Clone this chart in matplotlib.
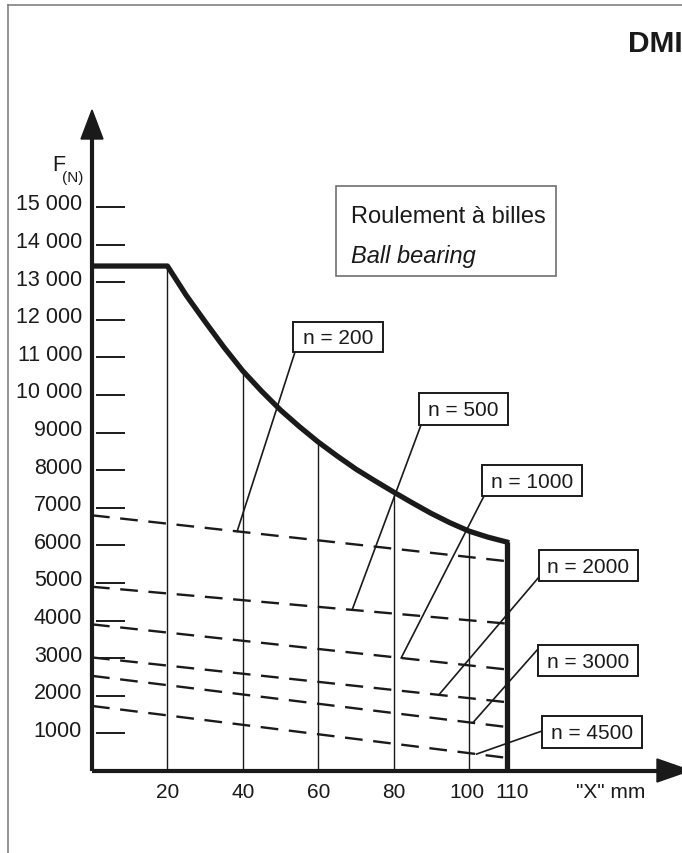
import matplotlib
matplotlib.use("Agg")
import matplotlib.pyplot as plt
from matplotlib.patches import Rectangle, Polygon
from matplotlib.lines import Line2D
import numpy as np

plt.rcParams['font.family'] = ['Liberation Sans', 'DejaVu Sans']

# ---------------- data ----------------
# limit curve (ball bearing), X in mm, F in N
x_curve = [0, 20, 25, 30, 35, 40, 45, 50, 55, 60, 65, 70, 75, 80, 85, 90, 95, 100, 105, 110]
F_curve = [13430, 13430, 12650, 11950, 11270, 10640, 10100, 9600, 9160, 8750,
           8380, 8030, 7720, 7420, 7130, 6850, 6600, 6380, 6220, 6090]

# vertical guide lines
x_guides = [20, 40, 60, 80, 100]
x_end = 110

# speed curves (dashed), value at X=0 and at X=110
speeds = ["n = 200", "n = 500", "n = 1000", "n = 2000", "n = 3000", "n = 4500"]
dash_x = [0, 110]
F_start = [6800, 4900, 3900, 3020, 2530, 1730]
F_end = [5580, 3920, 2700, 1830, 1170, 350]
leader_x = [38.5, 69, 82, 92, 101, 102]

# axis ticks
y_ticks = [1000, 2000, 3000, 4000, 5000, 6000, 7000, 8000, 9000, 10000,
           11000, 12000, 13000, 14000, 15000]
y_labels = ["1000", "2000", "3000", "4000", "5000", "6000", "7000", "8000", "9000",
            "10 000", "11 000", "12 000", "13 000", "14 000", "15 000"]
x_ticks = [20, 40, 60, 80, 100, 110]
x_labels = ["20", "40", "60", "80", "100", "110"]

# ---------------- layout ----------------
W, H = 682, 854
fig = plt.figure(figsize=(W / 100, H / 100), dpi=100)
ax = fig.add_axes([92 / W, (H - 772) / H, 590 / W, 660 / H])
ax.set_xlim(0, 156.5)
ax.set_ylim(0, 17553)
ax.axis('off')

def px(x, y):
    """figure pixel (top-left origin) -> data coords"""
    return ax.transData.inverted().transform((x, H - y))

ink = '#1a1a1a'

# frame border
fig.add_artist(Line2D([8 / W, 8 / W], [0, 1 - 6 / H], color='#808080', lw=1.2))
fig.add_artist(Line2D([8 / W, 1], [1 - 6 / H, 1 - 6 / H], color='#808080', lw=1.2))

# axes lines with arrows
ax.plot([0, 0], [0, 16850], color=ink, lw=3.0, clip_on=False, solid_capstyle='butt')
ax.plot([0, 151], [0, 0], color=ink, lw=3.0, clip_on=False, solid_capstyle='butt')
ax.add_patch(Polygon([px(81, 140), px(103, 140), px(92, 111)], closed=True,
                     fc=ink, ec=ink, clip_on=False))
ax.add_patch(Polygon([px(657, 760), px(657, 783), px(690, 771.5)], closed=True,
                     fc=ink, ec=ink, clip_on=False))

# y ticks: short horizontal dashes to the right of the axis
x0, _ = px(96, 0)
x1, _ = px(125, 0)
ax.hlines(y_ticks, x0, x1, color=ink, lw=1.4)
xl, _ = px(82, 0)
for v, lab in zip(y_ticks, y_labels):
    ax.text(xl, v + 80, lab, ha='right', va='center', fontsize=15.5, color=ink, clip_on=False)

# x tick labels
x_label_dx = [0, 0, 0, 0, -2, 5]
_, yl = px(0, 793)
for v, lab, d in zip(x_ticks, x_labels, x_label_dx):
    ax.text(v + d / 3.77, yl, lab, ha='center', va='center', fontsize=15, color=ink, clip_on=False)
tx, ty = px(611, 793)
ax.text(tx, ty, '"X" mm', ha='center', va='center', fontsize=15, color=ink, clip_on=False)

# y axis title F(N)
fx, fy = px(52, 171)
ax.text(fx, fy, 'F', ha='left', va='baseline', fontsize=15.5, color=ink, clip_on=False)
nx, ny = px(62, 182)
ax.text(nx, ny, '(N)', ha='left', va='baseline', fontsize=11, color=ink, clip_on=False)

# limit curve
ax.plot(x_curve, F_curve, color=ink, lw=3.8, solid_joinstyle='round', zorder=4)
for xg in x_guides:
    ax.vlines(xg, 0, F_curve[x_curve.index(xg)], color=ink, lw=1.0, zorder=2)
ax.vlines(x_end, 0, F_curve[x_curve.index(x_end)], color=ink, lw=3.8, zorder=4)

# speed lines (dashed)
for s0, s1 in zip(F_start, F_end):
    ax.plot(dash_x, [s0, s1], color=ink, lw=1.7, dashes=(7.5, 4.5), zorder=3)

# label boxes (pixel corners: left, top, right, bottom) and leader start points
box_px = [(293, 323, 383, 353), (419, 394, 508, 426), (482, 466, 582, 497),
          (539, 551, 638, 582), (538, 646, 638, 677), (542, 717, 642, 749)]
lead_px = [(295, 353), (421, 426), (484, 497), (539, 578), (538, 650), (542, 732)]

for lab, (l, t, r, b), (lx, ly), xa, s0, s1 in zip(speeds, box_px, lead_px, leader_x,
                                                  F_start, F_end):
    (dl, db) = px(l, b)
    (dr, dt) = px(r, t)
    ax.add_patch(Rectangle((dl, db), dr - dl, dt - db, fc='white', ec=ink, lw=1.4,
                           zorder=6, clip_on=False))
    cx, cy = px((l + r) / 2, (t + b) / 2 + 1)
    ax.text(cx, cy, lab, ha='center', va='center', fontsize=15, color=ink, zorder=7,
            clip_on=False)
    ya = s0 + (s1 - s0) * xa / 110.0
    sx, sy = px(lx, ly)
    ax.plot([sx, xa], [sy, ya], color=ink, lw=1.2, zorder=5, clip_on=False)

# legend box
(bl, bb) = px(336, 277)
(br, bt) = px(556, 187)
ax.add_patch(Rectangle((bl, bb), br - bl, bt - bb, fc='white', ec='#707070', lw=1.2,
                       zorder=6, clip_on=False))
rx, ry = px(351, 217)
ax.text(rx, ry, 'Roulement à billes', ha='left', va='center', fontsize=17, color=ink,
        zorder=7, clip_on=False)
rx, ry = px(351, 257)
ax.text(rx, ry, 'Ball bearing', ha='left', va='center', fontsize=17, style='italic',
        color=ink, zorder=7, clip_on=False)

# header
fig.text(628 / W, 1 - 44 / H, 'DMI', ha='left', va='center', fontsize=21.5,
         fontweight='bold', color=ink)

fig.savefig('out.png', dpi=100)
